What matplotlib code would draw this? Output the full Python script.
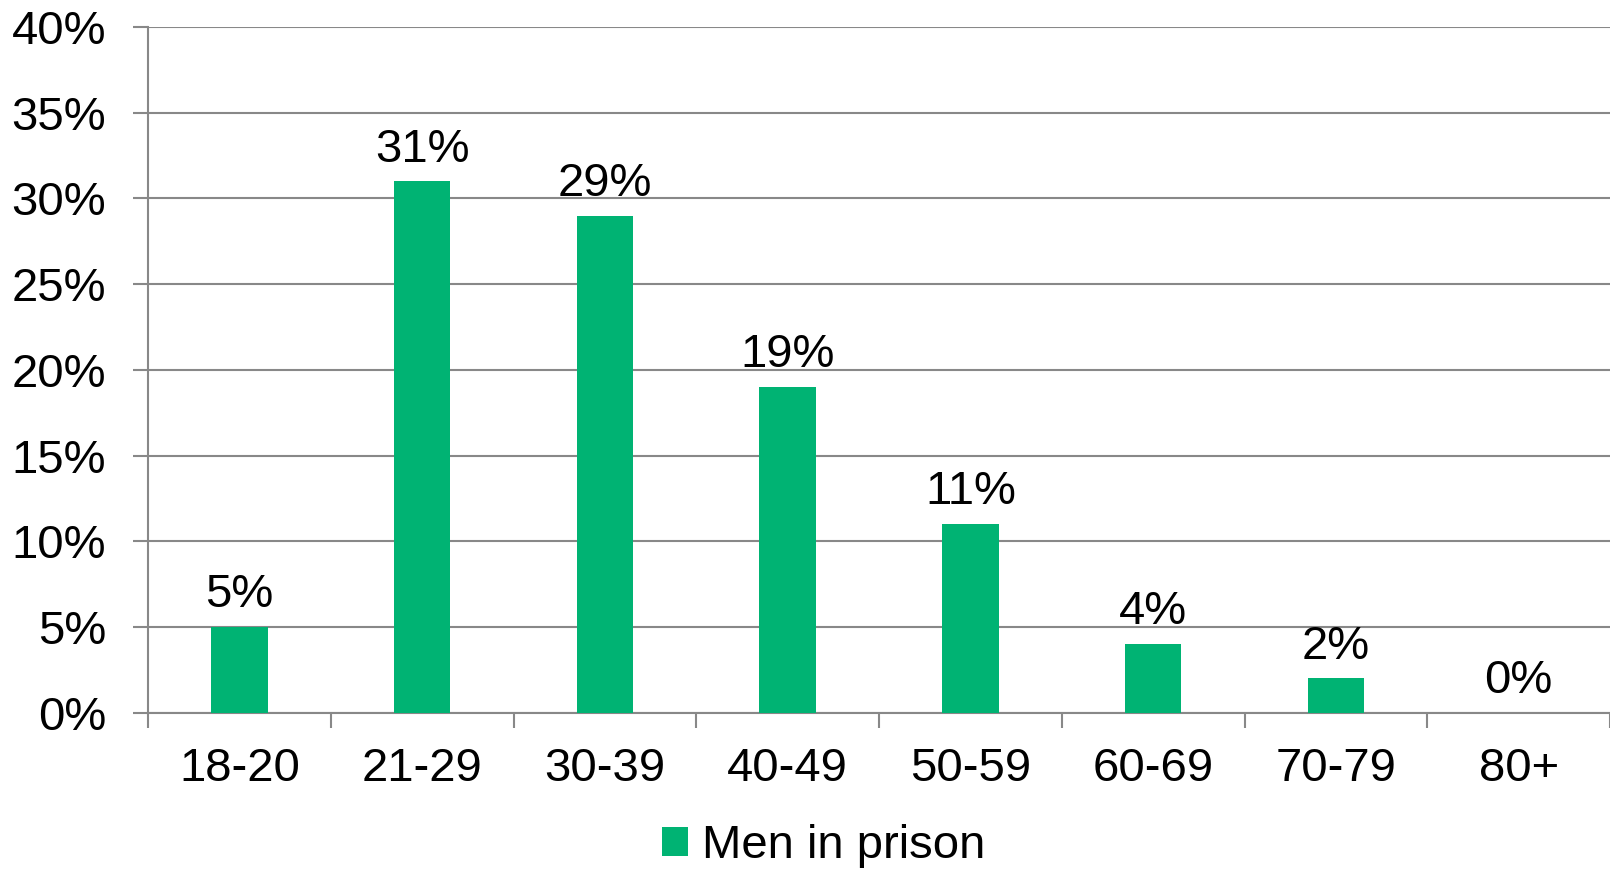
import matplotlib
matplotlib.use("Agg")
import matplotlib.pyplot as plt
from matplotlib.patches import Patch

plt.rcParams['font.family'] = ['Liberation Sans', 'DejaVu Sans']

age_groups = ["18-20", "21-29", "30-39", "40-49", "50-59", "60-69", "70-79", "80+"]
men_in_prison = [5, 31, 29, 19, 11, 4, 2, 0]
y_ticks = [0, 5, 10, 15, 20, 25, 30, 35, 40]

green = "#00B373"
grey = "#888888"
fs = 34

fig = plt.figure(figsize=(16.1, 8.71), dpi=100)
ax = fig.add_axes([148 / 1610, 1 - 712.7 / 871, 1 - 148 / 1610, (712.7 - 27) / 871])

x = list(range(len(age_groups)))
ax.bar(x, men_in_prison, width=0.31, color=green, zorder=3)

for xi, v in zip(x, men_in_prison):
    ax.annotate(f"{v}%", (xi, v), xytext=(0, 7), textcoords="offset points",
                ha="center", va="bottom", fontsize=fs)

ax.set_xlim(-0.5, len(age_groups) - 0.5)
ax.set_ylim(0, 40)

ax.set_yticks(y_ticks)
ax.set_yticklabels([f"{t}%" for t in y_ticks])
ax.yaxis.grid(True, color=grey, linewidth=1.5, zorder=0)
ax.tick_params(axis="y", length=11, width=1.5, color=grey, pad=19, labelsize=fs)

# boundary ticks between categories, labels at centres
ax.set_xticks([i - 0.5 for i in range(len(age_groups) + 1)])
ax.set_xticklabels([])
ax.set_xticks(x, minor=True)
ax.set_xticklabels(age_groups, minor=True)
ax.tick_params(axis="x", which="major", length=11, width=1.5, color=grey)
ax.tick_params(axis="x", which="minor", length=0, pad=25, labelsize=fs)

for s in ["top", "right"]:
    ax.spines[s].set_visible(False)
for s in ["left", "bottom"]:
    ax.spines[s].set_color(grey)
    ax.spines[s].set_linewidth(1.5)

handle = Patch(facecolor=green, label="Men in prison")
fig.legend(handles=[handle], loc="center", bbox_to_anchor=(824 / 1610, 1 - 846 / 871),
           frameon=False, fontsize=fs, handlelength=0.55, handleheight=0.55,
           handletextpad=0.3, borderpad=0)

fig.savefig("out.png", dpi=100)
